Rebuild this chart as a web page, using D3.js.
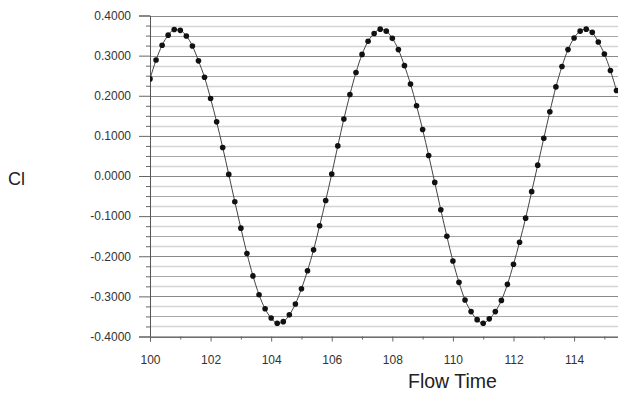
<!DOCTYPE html>
<html>
<head>
<meta charset="utf-8">
<script src="https://cdn.jsdelivr.net/npm/d3@7"></script>
<style>
  body { margin: 0; background: #fff; }
  svg { display: block; font-family: "Liberation Sans", Arial, sans-serif; }
</style>
</head>
<body>
<svg></svg>
<script>
let width = 618, height = 393;

// values
let flowTime = [100.0, 100.2, 100.4, 100.6, 100.8, 101.0, 101.2, 101.4, 101.6, 101.8,
    102.0, 102.2, 102.4, 102.6, 102.8, 103.0, 103.2, 103.4, 103.6, 103.8,
    104.0, 104.2, 104.4, 104.6, 104.8, 105.0, 105.2, 105.4, 105.6, 105.8,
    106.0, 106.2, 106.4, 106.6, 106.8, 107.0, 107.2, 107.4, 107.6, 107.8,
    108.0, 108.2, 108.4, 108.6, 108.8, 109.0, 109.2, 109.4, 109.6, 109.8,
    110.0, 110.2, 110.4, 110.6, 110.8, 111.0, 111.2, 111.4, 111.6, 111.8,
    112.0, 112.2, 112.4, 112.6, 112.8, 113.0, 113.2, 113.4, 113.6, 113.8,
    114.0, 114.2, 114.4, 114.6, 114.8, 115.0, 115.2, 115.4];
let clValues = [0.242, 0.289, 0.326, 0.351, 0.365, 0.363, 0.349, 0.324, 0.287, 0.246,
    0.193, 0.135, 0.071, 0.004, -0.064, -0.130, -0.193, -0.249, -0.296, -0.331,
    -0.354, -0.367, -0.363, -0.346, -0.319, -0.281, -0.236, -0.184, -0.124, -0.061,
    0.005, 0.075, 0.142, 0.203, 0.258, 0.303, 0.336, 0.355, 0.366, 0.361,
    0.343, 0.315, 0.275, 0.229, 0.175, 0.116, 0.051, -0.016, -0.084, -0.150,
    -0.212, -0.265, -0.309, -0.338, -0.358, -0.367, -0.356, -0.338, -0.310, -0.270,
    -0.220, -0.165, -0.105, -0.039, 0.027, 0.094, 0.160, 0.222, 0.273, 0.315,
    0.344, 0.361, 0.366, 0.358, 0.334, 0.304, 0.263, 0.213];

let yMajorTicks = [-0.4, -0.3, -0.2, -0.1, 0, 0.1, 0.2, 0.3, 0.4];
let yMinorTicks = [-0.375, -0.35, -0.325, -0.275, -0.25, -0.225, -0.175, -0.15, -0.125,
    -0.075, -0.05, -0.025, 0.025, 0.05, 0.075, 0.125, 0.15, 0.175,
    0.225, 0.25, 0.275, 0.325, 0.35, 0.375];
let xMajorTicks = [100, 102, 104, 106, 108, 110, 112, 114];
let xMinorTicks = [101, 103, 105, 107, 109, 111, 113, 115];

let data = flowTime.map((t, i) => ({ t: t, v: clValues[i] }));

let svg = d3.select("svg")
    .attr("width", width)
    .attr("height", height);

let plotLeft = 150, plotRight = 618, plotTop = 15.5, plotBottom = 336.5;

let x = d3.scaleLinear().domain([100, 115.45]).range([plotLeft, plotRight]);
let y = d3.scaleLinear().domain([-0.4, 0.4]).range([plotBottom, plotTop]);

let fmt4 = d3.format(".4f");

// gridlines, light ones at the quarter steps, darker at the halves
svg.append("g")
    .selectAll("line")
    .data(yMinorTicks)
    .enter()
    .append("line")
    .attr("x1", plotLeft).attr("x2", plotRight)
    .attr("y1", d => Math.round(y(d)) + 0.5)
    .attr("y2", d => Math.round(y(d)) + 0.5)
    .attr("stroke", d => Math.abs(Math.round(d * 1000) % 50) === 0 ? "#a8a8a8" : "#d4d4d4")
    .attr("stroke-width", d => Math.abs(Math.round(d * 1000) % 50) === 0 ? 1.2 : 1.6);

svg.append("g")
    .selectAll("line")
    .data(yMajorTicks)
    .enter()
    .append("line")
    .attr("x1", plotLeft).attr("x2", plotRight)
    .attr("y1", d => Math.round(y(d)) + 0.5)
    .attr("y2", d => Math.round(y(d)) + 0.5)
    .attr("stroke", "#8a8a8a")
    .attr("stroke-width", 1.2);

// y axis
let yAxis = svg.append("g")
    .attr("transform", "translate(" + plotLeft + ",0)")
    .call(d3.axisLeft(y).tickValues(yMajorTicks)
        .tickFormat(d => fmt4(d).replace("\u2212", "-"))
        .tickSize(11).tickPadding(8));
yAxis.select(".domain").attr("stroke", "#555");
yAxis.selectAll(".tick line").attr("stroke", "#666");
yAxis.selectAll("text").attr("font-size", 12).attr("fill", "#333")
    .attr("font-family", "Liberation Sans, Arial, sans-serif");

let yMinor = svg.append("g")
    .attr("transform", "translate(" + plotLeft + ",0)")
    .call(d3.axisLeft(y).tickValues(yMinorTicks).tickFormat("").tickSize(4));
yMinor.select(".domain").remove();
yMinor.selectAll(".tick line").attr("stroke", "#666");

// x axis
let xAxis = svg.append("g")
    .attr("transform", "translate(0," + plotBottom + ")")
    .call(d3.axisBottom(x).tickValues(xMajorTicks).tickFormat(d3.format("d")).tickSize(5).tickPadding(14));
xAxis.select(".domain").attr("stroke", "#555");
xAxis.selectAll(".tick line").attr("stroke", "#666");
xAxis.selectAll("text").attr("font-size", 12).attr("fill", "#333")
    .attr("font-family", "Liberation Sans, Arial, sans-serif");

let xMinor = svg.append("g")
    .attr("transform", "translate(0," + plotBottom + ")")
    .call(d3.axisBottom(x).tickValues(xMinorTicks).tickFormat("").tickSize(3));
xMinor.select(".domain").remove();
xMinor.selectAll(".tick line").attr("stroke", "#666");

// curve and markers
svg.append("clipPath").attr("id", "plotclip")
    .append("rect").attr("x", plotLeft).attr("y", 0).attr("width", plotRight - plotLeft).attr("height", plotBottom + 4);

let line = d3.line()
    .x(d => x(d.t))
    .y(d => y(d.v))
    .curve(d3.curveMonotoneX);

let plot = svg.append("g").attr("clip-path", "url(#plotclip)");

plot.append("path")
    .datum(data)
    .attr("d", line)
    .attr("fill", "none")
    .attr("stroke", "#444")
    .attr("stroke-width", 1);

plot.selectAll("circle")
    .data(data)
    .enter()
    .append("circle")
    .attr("cx", d => x(d.t))
    .attr("cy", d => y(d.v))
    .attr("r", 2.8)
    .attr("fill", "#111");

// axis titles
svg.append("text")
    .attr("x", 8).attr("y", 184.5)
    .attr("font-size", 18)
    .attr("fill", "#222")
    .text("Cl");

svg.append("text")
    .attr("x", 408).attr("y", 388)
    .attr("font-size", 19.5)
    .attr("fill", "#222")
    .text("Flow Time");
</script>
</body>
</html>
